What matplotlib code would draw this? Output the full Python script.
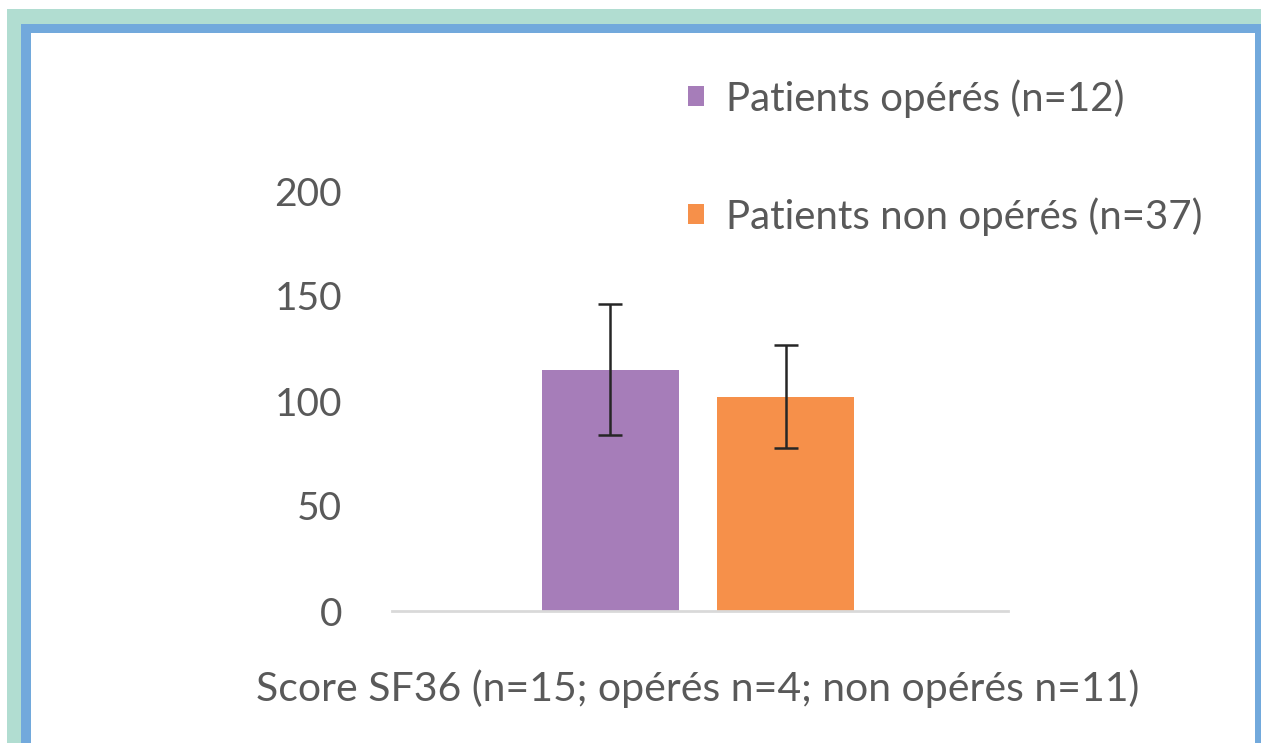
import matplotlib
matplotlib.use("Agg")
import matplotlib.pyplot as plt
import matplotlib.transforms as mtransforms
from matplotlib.patches import Rectangle, Patch

# Data
category = "Score SF36 (n=15; opérés n=4; non opérés n=11)"
series = ["Patients opérés (n=12)", "Patients non opérés (n=37)"]
values = [115, 102]
errors = [31, 24.5]
colors = ["#A67DB9", "#F6904A"]
yticks = [0, 50, 100, 150, 200]

W, H = 1261, 743
fig = plt.figure(figsize=(W / 100, H / 100), dpi=100)
fig.patch.set_facecolor("white")

def fx(px):
    return px / W

def fy(py):
    return 1 - py / H

# Background frames
fig.patches.append(Rectangle((fx(7), 0), 1 - fx(7), fy(9), transform=fig.transFigure,
                             facecolor="#B1DDD1", edgecolor="none", zorder=-3))
fig.patches.append(Rectangle((fx(21), 0), 1 - fx(21), fy(24), transform=fig.transFigure,
                             facecolor="#72A9DC", edgecolor="none", zorder=-2))
fig.patches.append(Rectangle((fx(31), 0), fx(1255) - fx(31), fy(33), transform=fig.transFigure,
                             facecolor="white", edgecolor="none", zorder=-1))

font = "Lato"
tcolor = "#595959"

ax = fig.add_axes([fx(392), fy(611), fx(1008) - fx(392), fy(191) - fy(611)])
ax.set_facecolor("none")

bw = 1.0
offsets = [-0.639, 0.639]
for off, v, e, c in zip(offsets, values, errors, colors):
    ax.bar(off, v, width=bw, color=c, zorder=2)
    ax.errorbar(off, v, yerr=e, fmt="none", ecolor="#262626", elinewidth=1.8,
                capsize=8.6, capthick=1.8, zorder=3)

ax.set_xlim(-2.234, 2.263)
ax.set_ylim(0, 200)
ax.set_yticks(yticks)
ax.set_yticklabels([str(t) for t in yticks], fontsize=28, color=tcolor, family=font)
shift = mtransforms.ScaledTranslation(0, -4 / 100, fig.dpi_scale_trans)
for lbl in ax.get_yticklabels():
    lbl.set_transform(lbl.get_transform() + shift)
ax.tick_params(axis="y", length=0, pad=36)
ax.tick_params(axis="x", length=0)
ax.set_xticks([0])
ax.set_xticklabels([category], fontsize=29.5, color=tcolor, family=font)
ax.tick_params(axis="x", pad=42)
for s in ["top", "right", "left"]:
    ax.spines[s].set_visible(False)
ax.spines["bottom"].set_color("#D9D9D9")
ax.spines["bottom"].set_linewidth(2)

handles = [Patch(facecolor=c, edgecolor="none") for c in colors]
leg = fig.legend(handles, series, loc="upper left", bbox_to_anchor=(fx(688), fy(79)),
                 frameon=False, prop={"family": font, "size": 29},
                 handlelength=0.4, handleheight=0.4, handletextpad=0.55,
                 labelspacing=1.97, labelcolor=tcolor, borderaxespad=0, borderpad=0)

fig.savefig("out.png", dpi=100, facecolor="white")
